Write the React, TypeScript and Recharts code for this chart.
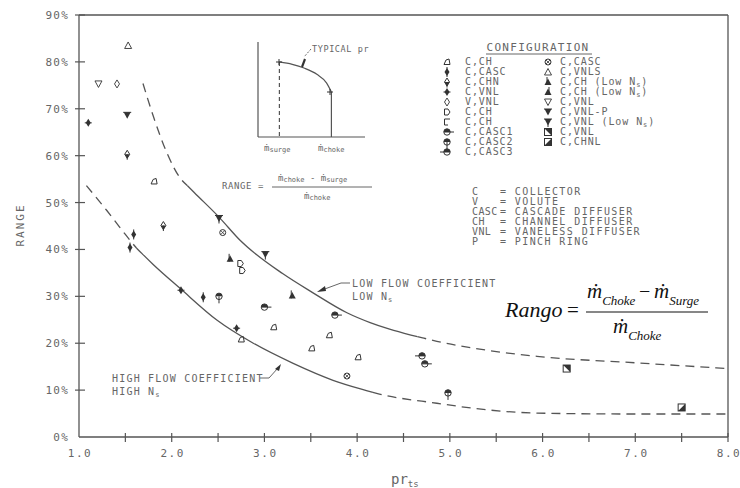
import React from "react";
import {
  ComposedChart,
  Line,
  LineChart,
  ReferenceLine,
  Scatter,
  XAxis,
  YAxis,
} from "recharts";

// pressure ratio ticks and range ticks
const xTicks = [1, 1.5, 2, 2.5, 3, 3.5, 4, 4.5, 5, 5.5, 6, 6.5, 7, 7.5, 8];
const yTicks = [0, 10, 20, 30, 40, 50, 60, 70, 80, 90];

// low flow coefficient bound (upper curve)
const lowFlowDashA = [
  { x: 1.69, y: 75.4 },
  { x: 1.8, y: 68.5 },
  { x: 1.95, y: 60.5 },
  { x: 2.1, y: 55.0 },
  { x: 2.17, y: 53.6 },
];
const lowFlowSolid = [
  { x: 2.17, y: 53.6 },
  { x: 2.24, y: 52.2 },
  { x: 2.51, y: 46.9 },
  { x: 2.74, y: 41.9 },
  { x: 3.2, y: 34.8 },
  { x: 3.52, y: 30.8 },
  { x: 3.89, y: 26.5 },
  { x: 4.14, y: 24.4 },
  { x: 4.35, y: 23.0 },
  { x: 4.58, y: 21.75 },
  { x: 4.65, y: 21.4 },
];
const lowFlowDashB = [
  { x: 4.65, y: 21.4 },
  { x: 4.72, y: 21.07 },
  { x: 4.86, y: 20.4 },
  { x: 5.4, y: 18.5 },
  { x: 5.94, y: 17.2 },
  { x: 7.02, y: 15.8 },
  { x: 8, y: 14.6 },
];

// high flow coefficient bound (lower curve)
const highFlowDashA = [
  { x: 1.08, y: 53.6 },
  { x: 1.3, y: 48.3 },
  { x: 1.5, y: 43.2 },
  { x: 1.56, y: 41.7 },
  { x: 1.62, y: 40.3 },
];
const highFlowSolid = [
  { x: 1.62, y: 40.3 },
  { x: 1.68, y: 39.1 },
  { x: 1.8, y: 36.8 },
  { x: 2.09, y: 31.7 },
  { x: 2.49, y: 24.9 },
  { x: 2.88, y: 20 },
  { x: 3.31, y: 15.7 },
  { x: 3.74, y: 12.1 },
  { x: 4.1, y: 9.9 },
  { x: 4.17, y: 9.5 },
];
const highFlowDashB = [
  { x: 4.17, y: 9.5 },
  { x: 4.24, y: 9.15 },
  { x: 4.86, y: 7.2 },
  { x: 5.4, y: 5.8 },
  { x: 5.94, y: 5.1 },
  { x: 7, y: 4.9 },
  { x: 8, y: 4.9 },
];

// measured points per configuration
const chWedge = [
  { x: 1.81, y: 54.5 },
  { x: 3.1, y: 23.4 },
  { x: 2.75, y: 20.8 },
  { x: 3.51, y: 18.9 },
  { x: 3.7, y: 21.7 },
  { x: 4.01, y: 17 },
];
const chOpen = [
  { x: 2.74, y: 37 },
  { x: 2.76, y: 35.5 },
];
const cascDiamond = [
  { x: 1.59, y: 43.2 },
  { x: 1.55, y: 40.4 },
  { x: 2.34, y: 29.8 },
];
const vnlDiamond = [
  { x: 1.1, y: 67 },
  { x: 2.1, y: 31.3 },
  { x: 2.7, y: 23.2 },
];
const chnDiamond = [
  { x: 1.52, y: 60.3 },
  { x: 1.91, y: 45.1 },
];
const voluteVnl = [{ x: 1.41, y: 75.3 }];
const cascCircle = [
  { x: 2.55, y: 43.6 },
  { x: 3.89, y: 13 },
];
const vnlsUp = [{ x: 1.53, y: 83.5 }];
const chLowUp = [
  { x: 2.63, y: 38 },
  { x: 3.3, y: 30.2 },
];
const vnlDown = [{ x: 1.21, y: 75.3 }];
const vnlpDown = [{ x: 1.52, y: 68.6 }];
const vnlLowDown = [
  { x: 2.51, y: 46.6 },
  { x: 3.01, y: 38.9 },
];
const casc1 = [
  { x: 3.0, y: 27.7 },
  { x: 3.76, y: 26 },
  { x: 4.73, y: 15.6 },
];
const casc2 = [
  { x: 2.51, y: 30 },
  { x: 4.98, y: 9.4 },
];
const casc3 = [{ x: 4.7, y: 17.3 }];
const vnlSquare = [{ x: 6.26, y: 14.6 }];
const chnlSquare = [{ x: 7.5, y: 6.3 }];

// inset: typical pressure ratio line
const insetCurve = [
  { x: 2, y: 7.9 },
  { x: 3.2, y: 7.65 },
  { x: 4.3, y: 7.26 },
  { x: 5.5, y: 6.6 },
  { x: 6.4, y: 5.7 },
  { x: 6.86, y: 4.74 },
];
const insetChoke = [
  { x: 6.86, y: 4.74 },
  { x: 6.86, y: 0 },
];
const insetSurge = [
  { x: 2, y: 7.9 },
  { x: 2, y: 0 },
];

const legendLeft = [
  ["wedge", "C,CH"],
  ["cascDiamond", "C,CASC"],
  ["chnDiamond", "C,CHN"],
  ["vnlDiamond", "C,VNL"],
  ["openDiamond", "V,VNL"],
  ["chOpen", "C,CH"],
  ["chOpen2", "C,CH"],
  ["casc1", "C,CASC1"],
  ["casc2", "C,CASC2"],
  ["casc3", "C,CASC3"],
];
const legendRight = [
  ["circleX", "C,CASC"],
  ["openUp", "C,VNLS"],
  ["filledUp", "C,CH (Low N|s|)"],
  ["filledUp2", "C,CH (Low N|s|)"],
  ["openDown", "C,VNL"],
  ["filledDown", "C,VNL-P"],
  ["filledDown2", "C,VNL (Low N|s|)"],
  ["square", "C,VNL"],
  ["square2", "C,CHNL"],
];
const abbrevs = [
  ["C", "COLLECTOR"],
  ["V", "VOLUTE"],
  ["CASC", "CASCADE DIFFUSER"],
  ["CH", "CHANNEL DIFFUSER"],
  ["VNL", "VANELESS DIFFUSER"],
  ["P", "PINCH RING"],
];

const INK = "#333";
const GREY = "#666";
const MONO = "'DejaVu Sans Mono', monospace";

const marker = (kind: string, cx: number, cy: number) => {
  const d = (a: number, b: number) => `${cx + a},${cy + b}`;
  switch (kind) {
    case "wedge":
      return <path d={`M${d(-3, 2.5)} L${d(3, 2.5)} L${d(2, -3)} L${d(-1, -2)} Z`} fill="none" stroke={INK} strokeWidth={1} />;
    case "chOpen":
      return <path d={`M${d(-2.5, -3)} L${d(1, -3)} L${d(3, 0)} L${d(1, 3)} L${d(-2.5, 3)} Z`} fill="none" stroke={INK} strokeWidth={1} />;
    case "chOpen2":
      return <path d={`M${d(-2.5, -3)} L${d(3, -3)} M${d(-2.5, -3)} L${d(-2.5, 3)} L${d(1, 3)}`} fill="none" stroke={INK} strokeWidth={1} />;
    case "cascDiamond":
      return (
        <g>
          <polygon points={`${d(0, -4)} ${d(2.5, 0)} ${d(0, 4)} ${d(-2.5, 0)}`} fill={INK} />
          <line x1={cx} y1={cy - 5} x2={cx} y2={cy + 5} stroke={INK} />
        </g>
      );
    case "vnlDiamond":
      return (
        <g>
          <polygon points={`${d(0, -4)} ${d(2.5, 0)} ${d(0, 4)} ${d(-2.5, 0)}`} fill={INK} />
          <line x1={cx - 3.5} y1={cy} x2={cx + 3.5} y2={cy} stroke={INK} />
        </g>
      );
    case "chnDiamond":
      return (
        <g>
          <polygon points={`${d(0, -4)} ${d(2.5, 0)} ${d(0, 4)} ${d(-2.5, 0)}`} fill="#fff" stroke={INK} />
          <polygon points={`${d(2.5, 0)} ${d(0, 4)} ${d(-2.5, 0)}`} fill={INK} />
          <line x1={cx} y1={cy} x2={cx} y2={cy + 5.5} stroke={INK} />
        </g>
      );
    case "openDiamond":
      return <polygon points={`${d(0, -4)} ${d(2.5, 0)} ${d(0, 4)} ${d(-2.5, 0)}`} fill="none" stroke={INK} strokeWidth={0.9} />;
    case "circleX":
      return (
        <g>
          <circle cx={cx} cy={cy} r={3} fill="none" stroke={INK} />
          <path d={`M${d(-2, -2)} L${d(2, 2)} M${d(2, -2)} L${d(-2, 2)}`} stroke={INK} strokeWidth={0.8} />
        </g>
      );
    case "openUp":
      return <polygon points={`${d(0, -3.5)} ${d(3.5, 3)} ${d(-3.5, 3)}`} fill="none" stroke={INK} strokeWidth={0.9} />;
    case "filledUp":
    case "filledUp2":
      return (
        <g>
          <polygon points={`${d(0, -3.5)} ${d(3.5, 3)} ${d(-3.5, 3)}`} fill={INK} />
          <line x1={kind === "filledUp" ? cx - 1 : cx + 1} y1={cy - 5} x2={kind === "filledUp" ? cx - 1 : cx + 1} y2={cy + 3} stroke={INK} />
        </g>
      );
    case "openDown":
      return <polygon points={`${d(0, 3.5)} ${d(3.5, -3)} ${d(-3.5, -3)}`} fill="none" stroke={INK} strokeWidth={0.9} />;
    case "filledDown":
    case "filledDown2":
      return (
        <g>
          <polygon points={`${d(0, 3.5)} ${d(3.5, -3)} ${d(-3.5, -3)}`} fill={INK} />
          <line x1={cx - 4} y1={cy - 3} x2={cx + 4} y2={cy - 3} stroke={INK} />
          {kind === "filledDown2" && <line x1={cx} y1={cy - 3} x2={cx} y2={cy + 5} stroke={INK} />}
        </g>
      );
    case "casc1":
      return (
        <g>
          <circle cx={cx} cy={cy} r={3.2} fill="#fff" stroke={INK} />
          <path d={`M${d(-3.2, 0)} A3.2 3.2 0 0 1 ${d(3.2, 0)} Z`} fill={INK} />
          <line x1={cx - 3} y1={cy} x2={cx + 7} y2={cy} stroke={INK} />
        </g>
      );
    case "casc2":
      return (
        <g>
          <circle cx={cx} cy={cy} r={3.2} fill="#fff" stroke={INK} />
          <path d={`M${d(-3.2, 0)} A3.2 3.2 0 0 1 ${d(3.2, 0)} Z`} fill={INK} />
          <line x1={cx} y1={cy} x2={cx} y2={cy + 7} stroke={INK} />
        </g>
      );
    case "casc3":
      return (
        <g>
          <circle cx={cx} cy={cy} r={3.2} fill="#fff" stroke={INK} />
          <path d={`M${d(-3.2, 0)} A3.2 3.2 0 0 1 ${d(3.2, 0)} Z`} fill={INK} />
          <line x1={cx - 7} y1={cy} x2={cx + 3} y2={cy} stroke={INK} />
        </g>
      );
    case "square":
    case "square2":
      return (
        <g>
          <rect x={cx - 3.5} y={cy - 3.5} width={7} height={7} fill="#fff" stroke={INK} />
          <path
            d={kind === "square" ? `M${d(-3.5, -3.5)} L${d(3.5, 3.5)} L${d(3.5, -3.5)} Z` : `M${d(-3.5, 3.5)} L${d(3.5, 3.5)} L${d(3.5, -3.5)} Z`}
            fill={INK}
          />
        </g>
      );
    default:
      return <g />;
  }
};

const shapeOf = (kind: string) => (p: any) => marker(kind, p.cx, p.cy);

const series: [string, { x: number; y: number }[]][] = [
  ["wedge", chWedge],
  ["chOpen", chOpen],
  ["cascDiamond", cascDiamond],
  ["vnlDiamond", vnlDiamond],
  ["chnDiamond", chnDiamond],
  ["openDiamond", voluteVnl],
  ["circleX", cascCircle],
  ["openUp", vnlsUp],
  ["filledUp", chLowUp],
  ["openDown", vnlDown],
  ["filledDown", vnlpDown],
  ["filledDown2", vnlLowDown],
  ["casc1", casc1],
  ["casc2", casc2],
  ["casc3", casc3],
  ["square", vnlSquare],
  ["square2", chnlSquare],
];

const XTick = (p: any) => {
  const v = p.payload.value;
  return (
    <g>
      {v > 1 && <line x1={p.x} y1={p.y - 4} x2={p.x} y2={p.y + 5} stroke="#555" strokeWidth={1.2} />}
      {Number.isInteger(v) && (
        <text x={p.x + 1} y={p.y + 20} textAnchor="middle" fontFamily={MONO} fontSize={11} letterSpacing={1.6} fill={GREY}>
          {v.toFixed(1)}
        </text>
      )}
    </g>
  );
};

const YTick = (p: any) => {
  const v = p.payload.value;
  return (
    <g>
      {v > 0 && <line x1={p.x - 4} y1={p.y} x2={p.x + 6} y2={p.y} stroke="#555" strokeWidth={1.2} />}
      <text x={p.x - 10} y={p.y + 4} textAnchor="end" fontFamily={MONO} fontSize={11} letterSpacing={1.2} fill={GREY}>
        {v}%
      </text>
    </g>
  );
};

const withSub = (label: string) => {
  const parts = label.split("|");
  return parts.map((s, i) =>
    i === 1 ? (
      <tspan key={i} fontSize={7} dy={2}>
        {s}
      </tspan>
    ) : (
      <tspan key={i} dy={i === 2 ? -2 : 0}>
        {s}
      </tspan>
    )
  );
};

const curveLine = (key: string, data: { x: number; y: number }[], dashed: boolean) => (
  <Line
    key={key}
    data={data}
    dataKey="y"
    type="monotone"
    stroke="#555"
    strokeWidth={1.3}
    strokeDasharray={dashed ? "9 6" : undefined}
    dot={false}
    activeDot={false}
    isAnimationActive={false}
  />
);

export default function App() {
  return (
    <div style={{ position: "absolute", left: 0, top: 0, width: 740, height: 488, background: "#fff" }}>
      <ComposedChart width={740} height={488} margin={{ top: 15, right: 12, bottom: 21, left: 19 }}>
        <XAxis
          dataKey="x"
          type="number"
          domain={[1, 8]}
          ticks={xTicks}
          interval={0}
          allowDataOverflow
          tickSize={0}
          tickMargin={0}
          height={30}
          axisLine={{ stroke: "#555", strokeWidth: 1.3 }}
          tickLine={false}
          tick={<XTick />}
        />
        <YAxis
          type="number"
          domain={[0, 90]}
          ticks={yTicks}
          interval={0}
          allowDataOverflow
          tickSize={0}
          tickMargin={0}
          width={60}
          axisLine={{ stroke: "#555", strokeWidth: 1.3 }}
          tickLine={false}
          tick={<YTick />}
        />
        <ReferenceLine y={90} stroke="#555" strokeWidth={1.3} />
        <ReferenceLine x={8} stroke="#555" strokeWidth={1.3} />
        {curveLine("lfa", lowFlowDashA, true)}
        {curveLine("lfs", lowFlowSolid, false)}
        {curveLine("lfb", lowFlowDashB, true)}
        {curveLine("hfa", highFlowDashA, true)}
        {curveLine("hfs", highFlowSolid, false)}
        {curveLine("hfb", highFlowDashB, true)}
        {series.map(([kind, data]) => (
          <Scatter key={kind} data={data} dataKey="y" shape={shapeOf(kind)} isAnimationActive={false} />
        ))}
      </ComposedChart>

      <div style={{ position: "absolute", left: 257, top: 42 }}>
        <LineChart width={108} height={96} margin={{ top: 0, right: 0, bottom: 0, left: 0 }}>
          <XAxis dataKey="x" type="number" domain={[0, 10]} height={1} tick={false} tickLine={false} axisLine={{ stroke: "#555", strokeWidth: 1.2 }} />
          <YAxis type="number" domain={[0, 10]} width={1} tick={false} tickLine={false} axisLine={{ stroke: "#555", strokeWidth: 1.2 }} />
          <Line data={insetCurve} dataKey="y" type="monotone" stroke="#555" strokeWidth={1.2} dot={false} activeDot={false} isAnimationActive={false} />
          <Line data={insetChoke} dataKey="y" type="linear" stroke="#555" strokeWidth={1.2} dot={false} activeDot={false} isAnimationActive={false} />
          <Line data={insetSurge} dataKey="y" type="linear" stroke="#555" strokeWidth={1.2} strokeDasharray="4 3" dot={false} activeDot={false} isAnimationActive={false} />
        </LineChart>
      </div>

      <svg width={740} height={488} style={{ position: "absolute", left: 0, top: 0, pointerEvents: "none" }}>
        <g fontFamily={MONO} fill={GREY}>
          {/* axis titles */}
          <text x={24} y={225} fontSize={11} letterSpacing={2} textAnchor="middle" transform="rotate(-90 24 225)">
            RANGE
          </text>
          <text x={391} y={484} fontSize={14}>
            pr
            <tspan fontSize={9} dy={3}>
              ts
            </tspan>
          </text>

          {/* inset labels */}
          <text x={264} y={151} fontSize={9}>
            ṁ<tspan fontSize={7} dy={1}>surge</tspan>
          </text>
          <text x={318} y={151} fontSize={9}>
            ṁ<tspan fontSize={7} dy={1}>choke</tspan>
          </text>
          <text x={312} y={52} fontSize={8.5} letterSpacing={0.6}>
            TYPICAL pr
          </text>
          <line x1={311} y1={49} x2={304} y2={57} stroke={GREY} strokeDasharray="2 1.5" />
          <line x1={305} y1={59} x2={302} y2={67} stroke={INK} strokeWidth={2.2} />

          <text x={222} y={189} fontSize={9} letterSpacing={0.6}>
            RANGE =
          </text>
          <text x={278} y={181} fontSize={9}>
            ṁ<tspan fontSize={7} dy={1}>choke</tspan>
            <tspan dy={-1}> - ṁ</tspan>
            <tspan fontSize={7} dy={1}>surge</tspan>
          </text>
          <line x1={272} y1={187} x2={372} y2={187} stroke={GREY} strokeWidth={1} />
          <text x={304} y={199} fontSize={9}>
            ṁ<tspan fontSize={7} dy={1}>choke</tspan>
          </text>

          {/* legend */}
          <text x={538} y={51} fontSize={11} letterSpacing={1.3} textAnchor="middle">
            CONFIGURATION
          </text>
          <line x1={486} y1={54} x2={592} y2={54} stroke={GREY} />
          {legendLeft.map(([k, label], i) => (
            <text key={"l" + i} x={465} y={65 + i * 10} fontSize={10} letterSpacing={0.9}>
              {label}
            </text>
          ))}
          {legendRight.map(([k, label], i) => (
            <text key={"r" + i} x={560} y={65 + i * 10} fontSize={10} letterSpacing={0.9}>
              {withSub(label)}
            </text>
          ))}
          {abbrevs.map(([a, t], i) => (
            <g key={"a" + i}>
              <text x={472} y={195 + i * 10} fontSize={10} letterSpacing={0.4}>
                {a}
              </text>
              <text x={500} y={195 + i * 10} fontSize={10} letterSpacing={1.4}>
                = {t}
              </text>
            </g>
          ))}

          {/* curve labels */}
          <text x={352} y={287} fontSize={10} letterSpacing={1.2}>
            LOW FLOW COEFFICIENT
          </text>
          <text x={352} y={300} fontSize={10} letterSpacing={1.2}>
            {withSub("LOW N|s|")}
          </text>
          <path d="M350,283 L341,283 L322,290" fill="none" stroke={GREY} />
          <polygon points="317,292 325,286 326,291" fill={INK} />

          <text x={112} y={382} fontSize={10} letterSpacing={1.2}>
            HIGH FLOW COEFFICIENT
          </text>
          <text x={112} y={395} fontSize={10} letterSpacing={1.2}>
            {withSub("HIGH N|s|")}
          </text>
          <path d="M260,378 L269,378 L278,368" fill="none" stroke={GREY} />
          <polygon points="281,364 275,369 279,371" fill={INK} />
        </g>

        {legendLeft.map(([k], i) => (
          <g key={"lm" + i}>{marker(k, 447, 62 + i * 10)}</g>
        ))}
        {legendRight.map(([k], i) => (
          <g key={"rm" + i}>{marker(k, 548, 62 + i * 10)}</g>
        ))}

        {/* inset point ticks */}
        <g stroke={INK} strokeWidth={1}>
          <path d="M276,62 L282,62 M279,59 L279,65" />
          <path d="M327,92 L333,92 M330,89 L330,95" />
        </g>

        {/* formula */}
        <g fontFamily="'Liberation Serif', 'Times New Roman', serif" fontStyle="italic" fill="#111">
          <text x={505} y={317} fontSize={22}>
            Rango
          </text>
          <text x={567} y={317} fontSize={21} fontStyle="normal">
            =
          </text>
          <text x={587} y={298} fontSize={21}>
            ṁ
            <tspan fontSize={13} dy={7}>
              Choke
            </tspan>
          </text>
          <text x={639} y={298} fontSize={20} fontStyle="normal">
            −
          </text>
          <text x={654} y={298} fontSize={21}>
            ṁ
            <tspan fontSize={13} dy={7}>
              Surge
            </tspan>
          </text>
          <line x1={586} y1={312} x2={708} y2={312} stroke="#111" strokeWidth={1.2} />
          <text x={613} y={333} fontSize={21}>
            ṁ
            <tspan fontSize={13} dy={7}>
              Choke
            </tspan>
          </text>
        </g>
      </svg>
    </div>
  );
}
